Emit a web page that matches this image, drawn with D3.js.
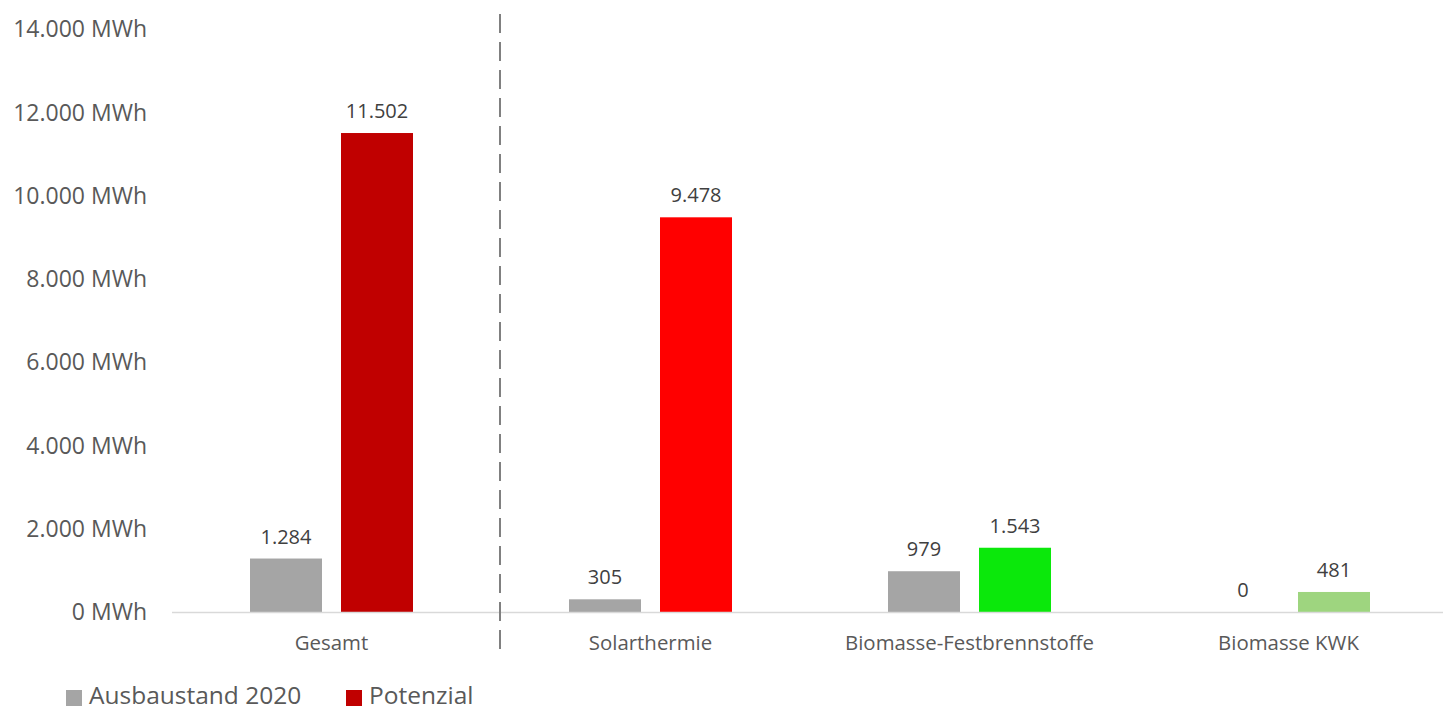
<!DOCTYPE html>
<html><head><meta charset="utf-8">
<script src="https://cdn.jsdelivr.net/npm/d3@7"></script>
<style>body{margin:0;background:#fff}svg{display:block;font-family:"Open Sans",sans-serif}</style>
</head><body><svg id="c" width="1443" height="711"></svg>
<script>
const categories = ["Gesamt", "Solarthermie", "Biomasse-Festbrennstoffe", "Biomasse KWK"];
const seriesNames = ["Ausbaustand 2020", "Potenzial"];
const ausbaustand = [1284, 305, 979, 0];
const potenzial = [11502, 9478, 1543, 481];
const potenzialColors = ["#c00000", "#ff0000", "#0be80b", "#9ed57f"];
const greyColor = "#a5a5a5";
const yTicks = [0, 2000, 4000, 6000, 8000, 10000, 12000, 14000];

const svg = d3.select("#c");
const fmt = v => d3.format(",")(v).replace(/,/g, ".");

const x0 = d3.scaleBand().domain(categories).range([172, 1448]).padding(0);
const x1 = d3.scaleBand().domain(seriesNames).range([78, 241]).paddingInner(0.2088).paddingOuter(0);
const y = d3.scaleLinear().domain([0, 14000]).range([612, 29]);

// y tick labels
svg.append("g").selectAll("text").data(yTicks).join("text")
  .attr("x", 147).attr("y", d => y(d)).attr("dy", "0.36em")
  .attr("text-anchor", "end").attr("font-size", 23).attr("fill", "#595959")
  .text(d => fmt(d) + " MWh");

// bars
const data = categories.map((c, i) => ({c, i, vals: [
  {s: seriesNames[0], v: ausbaustand[i], col: greyColor},
  {s: seriesNames[1], v: potenzial[i], col: potenzialColors[i]}
]}));
const g = svg.append("g").selectAll("g").data(data).join("g")
  .attr("transform", d => `translate(${x0(d.c)},0)`);
g.selectAll("rect").data(d => d.vals).join("rect")
  .attr("x", d => x1(d.s)).attr("width", x1.bandwidth())
  .attr("y", d => y(d.v)).attr("height", d => y(0) - y(d.v))
  .attr("fill", d => d.col);
g.selectAll("text").data(d => d.vals).join("text")
  .attr("x", d => x1(d.s) + x1.bandwidth() / 2).attr("y", d => y(d.v) - 15)
  .attr("text-anchor", "middle").attr("font-size", 20).attr("fill", "#404040")
  .text(d => fmt(d.v));

// baseline
svg.append("line").attr("x1", 172).attr("x2", 1448).attr("y1", y(0) + 0.5).attr("y2", y(0) + 0.5)
  .attr("stroke", "#d9d9d9").attr("stroke-width", 1.5);

// category labels
svg.append("g").selectAll("text").data(categories).join("text")
  .attr("x", d => x0(d) + x0.bandwidth() / 2).attr("y", 650)
  .attr("text-anchor", "middle").attr("font-size", 20.4).attr("fill", "#595959")
  .text(d => d);

// dashed separator
svg.append("line").attr("x1", 500).attr("x2", 500).attr("y1", 14).attr("y2", 650)
  .attr("stroke", "#808080").attr("stroke-width", 2).attr("stroke-dasharray", "19,9");

// legend
const legend = [{n: seriesNames[0], col: greyColor, x: 66}, {n: seriesNames[1], col: potenzialColors[0], x: 346}];
const lg = svg.append("g").selectAll("g").data(legend).join("g");
lg.append("rect").attr("x", d => d.x).attr("y", 690).attr("width", 16).attr("height", 16).attr("fill", d => d.col);
lg.append("text").attr("x", d => d.x + 23).attr("y", 704).attr("font-size", 24.5).attr("fill", "#595959").text(d => d.n);
</script></body></html>
